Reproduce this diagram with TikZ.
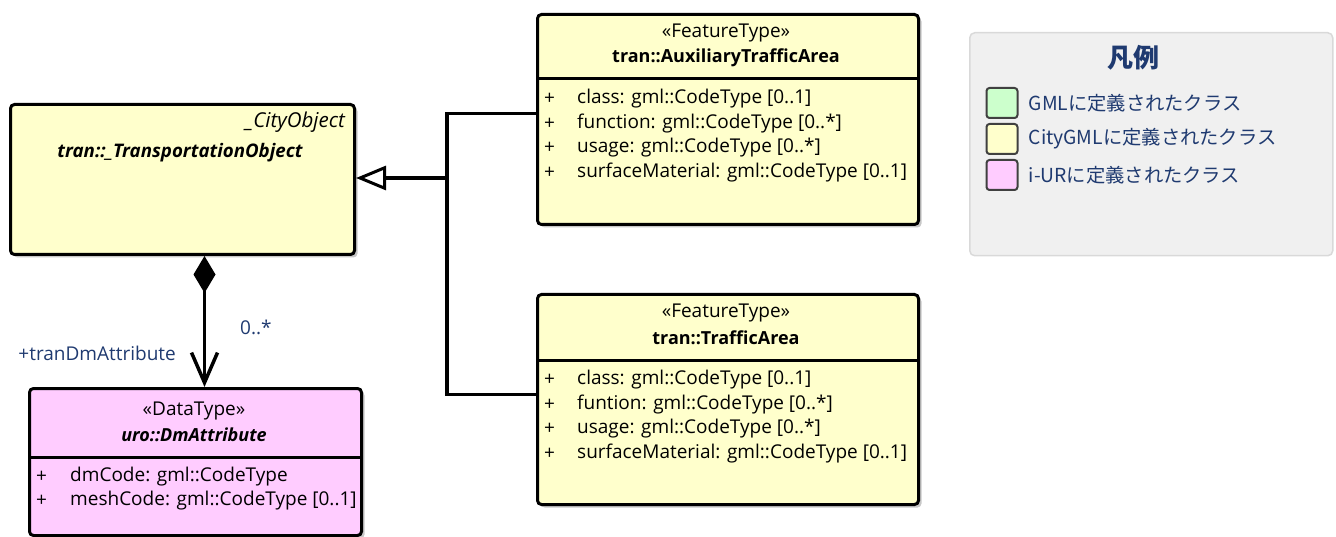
\documentclass[tikz,border=0pt]{standalone}
\usepackage{fontspec}
\setmainfont{Open Sans}
\newfontfamily\cjk{Noto Sans CJK JP}
\usetikzlibrary{arrows.meta,positioning,shadows}
\definecolor{clsyellow}{HTML}{FFFFCC}
\definecolor{clspink}{HTML}{FFCCFF}
\definecolor{clsgreen}{HTML}{CCFFCC}
\definecolor{legbg}{HTML}{F0F0F0}
\definecolor{navytext}{HTML}{1F3A70}
\newcommand\umlfont{\fontsize{19}{22}\selectfont}
\newcommand\namefont{\fontsize{18}{22}\selectfont\bfseries}

\begin{document}
\begin{tikzpicture}[x=1pt, y=-1pt,
  cls/.style={draw=black, line width=3pt, rounded corners=4pt, anchor=north west, inner sep=0pt,
    general shadow={fill=black!22, shadow xshift=3pt, shadow yshift=-3pt}},
  divline/.style={line width=3pt},
  umltext/.style={inner sep=0pt, font=\umlfont},
  attr/.style={umltext, anchor=west},
  assoc/.style={line width=3.5pt},
  lbl/.style={umltext, text=navytext, anchor=west},
  swatch/.style={draw=black!75, line width=2pt, rounded corners=3pt, minimum width=31pt, minimum height=30pt, inner sep=0pt},
  legtext/.style={inner sep=0pt, anchor=west, text=navytext, font=\cjk\fontsize{19.3}{24}\selectfont}]
\useasboundingbox (0,0) rectangle (1336,537);

% classes
\node[cls, fill=clsyellow, minimum width=344pt, minimum height=150pt] (obj) at (9,103) {};
\node[cls, fill=clsyellow, minimum width=381pt, minimum height=210pt] (aux) at (536,13) {};
\node[cls, fill=clsyellow, minimum width=381pt, minimum height=210pt] (traffic) at (536,293) {};
\node[cls, fill=clspink, minimum width=332pt, minimum height=147pt] (dm) at (28,387) {};
\draw[divline] (aux.west |- 0,79) -- (aux.east |- 0,79);
\draw[divline] (traffic.west |- 0,360) -- (traffic.east |- 0,360);
\draw[divline] (dm.west |- 0,457) -- (dm.east |- 0,457);

% headers
\node[umltext, anchor=east] (objstereo) at (345,122) {\fontsize{20.5}{22}\selectfont\itshape \_CityObject};
\node[umltext] (objname) at (180,153) {\fontsize{18.7}{22}\selectfont\bfseries\itshape tran::\_TransportationObject};
\node[umltext] (auxstereo) at (726,33) {«FeatureType»};
\node[umltext] (auxname) at (726,58) {\namefont tran::AuxiliaryTrafficArea};
\node[umltext] (trafficstereo) at (726,313) {«FeatureType»};
\node[umltext] (trafficname) at (726,338) {\namefont tran::TrafficArea};
\node[umltext] (dmstereo) at (194,411) {«DataType»};
\node[umltext] (dmname) at (194,435) {\namefont\itshape uro::DmAttribute};

% attributes
\foreach \t [count=\i] in {class: gml::CodeType [0..1], function: gml::CodeType [0..*],
    usage: gml::CodeType [0..*], surfaceMaterial: gml::CodeType [0..1]} {
  \node[attr] (auxp\i) at (544,{99+24.5*(\i-1)}) {+};
  \node[attr] (auxa\i) at (577,{99+24.5*(\i-1)}) {\t};
}
\foreach \t [count=\i] in {class: gml::CodeType [0..1], funtion: gml::CodeType [0..*],
    usage: gml::CodeType [0..*], surfaceMaterial: gml::CodeType [0..1]} {
  \node[attr] (trafficp\i) at (544,{380+24.5*(\i-1)}) {+};
  \node[attr] (traffica\i) at (577,{380+24.5*(\i-1)}) {\t};
}
\foreach \t [count=\i] in {dmCode: gml::CodeType, meshCode: gml::CodeType [0..1]} {
  \node[attr] (dmp\i) at (36,{477+24*(\i-1)}) {+};
  \node[attr] (dma\i) at (70,{477+24*(\i-1)}) {\t};
}

% connectors
\coordinate (gen) at (447,178);
\draw[assoc] ([yshift=6pt]aux.west) -| (gen);
\draw[assoc] ([yshift=5pt]traffic.west) -| (gen);
\draw[assoc, -{Triangle[open, length=30pt, width=24pt, line width=3pt]}] (gen) -- (obj.east |- gen);
\draw[assoc, {Diamond[length=37pt, width=22pt]}-{Straight Barb[length=30pt, width=26pt, line width=3.5pt]}]
  ([xshift=22pt]obj.south) -- ([xshift=9pt]dm.north);
\node[lbl] (mult) at (240,327) {0..*};
\node[lbl, anchor=east] (role) at (176,353) {+tranDmAttribute};

% legend
\node[draw=black!15, fill=legbg, line width=1.5pt, rounded corners=5pt, anchor=north west,
  minimum width=363pt, minimum height=223pt] (legend) at (969,32) {};
\node[text=navytext, font=\cjk\bfseries\fontsize{26}{30}\selectfont] (legtitle) at (1133,58) {凡例};
\foreach \c/\t [count=\i] in {clsgreen/GMLに定義されたクラス, clsyellow/CityGMLに定義されたクラス,
    clspink/i-URに定義されたクラス} {
  \node[swatch, fill=\c] (sw\i) at (1002,{103+36*(\i-1)}) {};
  \node[legtext, right=10pt of sw\i] (leg\i) {\t};
}
\end{tikzpicture}
\end{document}
